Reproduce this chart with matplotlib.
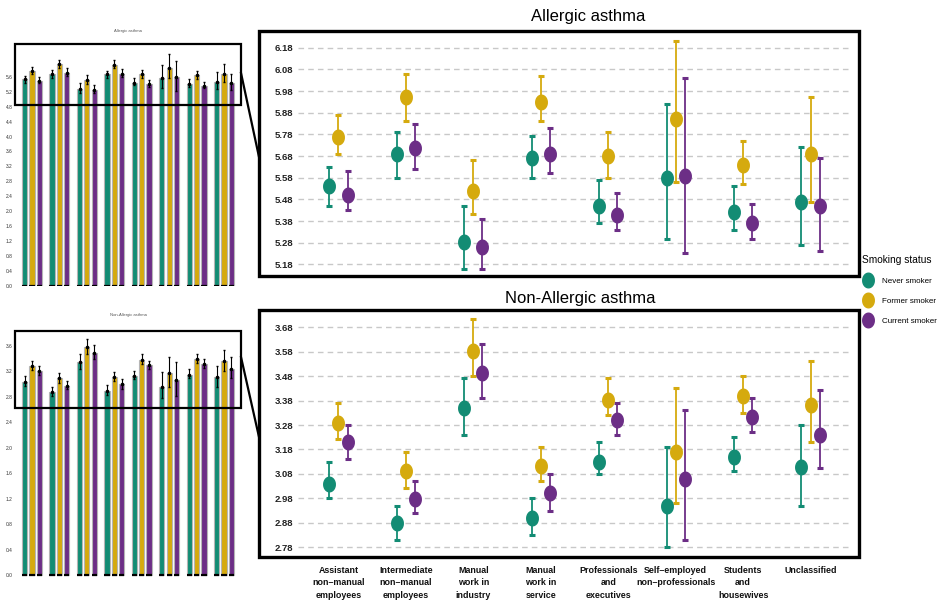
import numpy as np
import matplotlib.pyplot as plt
from matplotlib.patches import Rectangle
from matplotlib.lines import Line2D
from matplotlib.path import Path

# ---- data -------------------------------------------------------------
CATEGORIES = [
    "Assistant\nnon–manual\nemployees",
    "Intermediate\nnon–manual\nemployees",
    "Manual\nwork in\nindustry",
    "Manual\nwork in\nservice",
    "Professionals\nand\nexecutives",
    "Self–employed\nnon–professionals",
    "Students\nand\nhousewives",
    "Unclassified",
]
STATUS = ["Never smoker", "Former smoker", "Current smoker"]

# Allergic asthma: estimate, lower, upper
never_a = [5.542, 5.688, 5.282, 5.669, 5.449, 5.580, 5.420, 5.469]
never_a_lo = [5.449, 5.580, 5.160, 5.580, 5.372, 5.298, 5.338, 5.269]
never_a_hi = [5.631, 5.789, 5.449, 5.771, 5.569, 5.920, 5.542, 5.720]
former_a = [5.769, 5.951, 5.518, 5.931, 5.680, 5.849, 5.640, 5.688]
former_a_lo = [5.689, 5.840, 5.411, 5.842, 5.580, 5.560, 5.549, 5.469]
former_a_hi = [5.869, 6.060, 5.660, 6.051, 5.789, 6.209, 5.749, 5.951]
current_a = [5.498, 5.718, 5.260, 5.689, 5.410, 5.589, 5.369, 5.449]
current_a_lo = [5.429, 5.618, 5.160, 5.600, 5.338, 5.231, 5.298, 5.240]
current_a_hi = [5.609, 5.829, 5.389, 5.808, 5.508, 6.038, 5.460, 5.671]

# Non-allergic asthma
never_n = [3.040, 2.880, 3.350, 2.900, 3.129, 2.950, 3.151, 3.110]
never_n_lo = [2.980, 2.810, 3.240, 2.829, 3.081, 2.780, 3.090, 2.950]
never_n_hi = [3.129, 2.950, 3.471, 2.982, 3.211, 3.192, 3.233, 3.280]
former_n = [3.287, 3.090, 3.583, 3.111, 3.381, 3.170, 3.400, 3.361]
former_n_lo = [3.222, 3.021, 3.481, 3.050, 3.320, 2.960, 3.331, 3.210]
former_n_hi = [3.370, 3.170, 3.713, 3.192, 3.471, 3.430, 3.481, 3.541]
current_n = [3.210, 2.978, 3.492, 3.000, 3.301, 3.060, 3.312, 3.241]
current_n_lo = [3.140, 2.919, 3.390, 2.930, 3.241, 2.810, 3.250, 3.103]
current_n_hi = [3.280, 3.051, 3.613, 3.081, 3.372, 3.342, 3.391, 3.424]

TICKS_A = [5.18, 5.28, 5.38, 5.48, 5.58, 5.68, 5.78, 5.88, 5.98, 6.08, 6.18]
TICKS_N = [2.78, 2.88, 2.98, 3.08, 3.18, 3.28, 3.38, 3.48, 3.58, 3.68]
SMALL_TICKS_A = [0.0, 0.4, 0.8, 1.2, 1.6, 2.0, 2.4, 2.8, 3.2, 3.6, 4.0, 4.4, 4.8, 5.2, 5.6]
SMALL_TICKS_N = [0.0, 0.4, 0.8, 1.2, 1.6, 2.0, 2.4, 2.8, 3.2, 3.6]

COLOURS = ["#138c74", "#d5aa0e", "#6c2e86"]

# ---- layout helpers ----------------------------------------------------
W, H = 941, 607
plt.rcParams["font.family"] = ["Liberation Sans", "DejaVu Sans"]

fig = plt.figure(figsize=(W / 100, H / 100), dpi=100)


def px_axes(x0, y0, x1, y1):
    return fig.add_axes([x0 / W, 1 - y1 / H, (x1 - x0) / W, (y1 - y0) / H])


def fx(x):
    return x / W


def fy(y):
    return 1 - y / H


t = np.linspace(0, 2 * np.pi, 60)
ELLIPSE = Path(np.column_stack([0.79 * np.cos(t), np.sin(t)]))

x = np.arange(len(CATEGORIES))
offsets = [-0.134, 0.0, 0.134]


def big_panel(ax, series, ticks, ylim):
    for tk in ticks:
        ax.axhline(tk, color="#c8c8c8", lw=1.0, ls=(0, (4, 3)), zorder=0)
    for (est, lo, hi), off, col in zip(series, offsets, COLOURS):
        est, lo, hi = map(np.asarray, (est, lo, hi))
        ax.errorbar(x + off, est, yerr=[est - lo, hi - est], fmt="none",
                    ecolor=col, elinewidth=1.3, capsize=2.0, capthick=2.2, zorder=2)
        ax.plot(x + off, est, ls="none", marker=ELLIPSE, ms=10.5,
                color=col, mec=col, zorder=3)
    ax.set_xlim(-0.6, 7.6)
    ax.set_ylim(*ylim)
    ax.set_yticks(ticks)
    ax.set_yticklabels([f"{v:.2f}" for v in ticks], fontsize=6.8, fontweight="bold", color="#222222")
    ax.tick_params(axis="y", length=0, pad=3.5)
    ax.tick_params(axis="x", length=0)
    for s in ax.spines.values():
        s.set_visible(False)
    ax.patch.set_alpha(0)


def small_panel(ax, series, ticks, ylim, title, title_y):
    for (est, lo, hi), off, col in zip(series, [-0.266, 0.0, 0.266], COLOURS):
        est, lo, hi = map(np.asarray, (est, lo, hi))
        ax.bar(x + off, est, width=0.19, color=col, edgecolor="#b5b5b5", lw=0.8, zorder=1)
        ax.hlines(np.zeros_like(est), x + off - 0.095, x + off + 0.095,
                  color="black", lw=1.6, zorder=2)
        ax.errorbar(x + off, est, yerr=[est - lo, hi - est], fmt="o", ms=1.6,
                    color="black", elinewidth=0.8, capsize=1.0, capthick=1.0, zorder=3)
    ax.set_xlim(-0.6, 7.6)
    ax.set_ylim(*ylim)
    ax.set_xticks([])
    ax.set_yticks(ticks)
    ax.set_yticklabels([f"{v:.1f}" for v in ticks], fontsize=3.5, color="#333333")
    ax.tick_params(axis="y", length=0, pad=2)
    for s in ax.spines.values():
        s.set_visible(False)
    fig.text(fx(128), fy(title_y), title, fontsize=3, color="#555555", ha="center", va="center")


series_a = [(never_a, never_a_lo, never_a_hi), (former_a, former_a_lo, former_a_hi),
            (current_a, current_a_lo, current_a_hi)]
series_n = [(never_n, never_n_lo, never_n_hi), (former_n, former_n_lo, former_n_hi),
            (current_n, current_n_lo, current_n_hi)]

# ---- big panels --------------------------------------------------------
ax_a = px_axes(298, 38, 851, 271)
big_panel(ax_a, series_a, TICKS_A, (5.1495, 6.2248))
ax_a.set_xticks([])

ax_n = px_axes(298, 315, 851, 551)
big_panel(ax_n, series_n, TICKS_N, (2.7647, 3.7303))
ax_n.set_xticks(x)
ax_n.set_xticklabels(CATEGORIES, fontsize=6.4, fontweight="bold", color="#111111",
                     va="top", linespacing=1.45)
ax_n.tick_params(axis="x", pad=11)

for y0, y1 in [(31, 276), (310, 557)]:
    fig.add_artist(Rectangle((fx(259), fy(y1)), fx(859) - fx(259), fy(y0) - fy(y1),
                             transform=fig.transFigure, fill=False, lw=2.4, ec="black"))

fig.text(fx(588), fy(16), "Allergic asthma", fontsize=12, ha="center", va="center")
fig.text(fx(580), fy(299), "Non-Allergic asthma", fontsize=12, ha="center", va="center")

# ---- small overview panels --------------------------------------------
ax_sa = px_axes(15.5, 40, 240.5, 286)
small_panel(ax_sa, series_a, SMALL_TICKS_A, (-0.01, 6.59), "Allergic asthma", 31)
ax_sa.add_patch(Rectangle((-0.6, 4.84), 8.2, 1.63, fill=False, lw=1.6, ec="black",
                          clip_on=False, zorder=5))

ax_sn = px_axes(15.5, 325, 240.5, 577)
small_panel(ax_sn, series_n, SMALL_TICKS_N, (-0.027, 3.93), "Non-Allergic asthma", 315)
ax_sn.add_patch(Rectangle((-0.6, 2.63), 8.2, 1.205, fill=False, lw=1.6, ec="black",
                          clip_on=False, zorder=5))

# zoom connectors
for (xa, ya), (xb, yb) in [((241, 73), (259, 157)), ((241, 357), (259, 437))]:
    fig.add_artist(Line2D([fx(xa), fx(xb)], [fy(ya), fy(yb)], transform=fig.transFigure,
                          color="black", lw=1.6))

# ---- legend ------------------------------------------------------------
handles = [Line2D([], [], ls="none", marker=ELLIPSE, ms=10.5, color=c) for c in COLOURS]
leg = fig.legend(handles, STATUS, title="Smoking status", loc="upper left",
                 bbox_to_anchor=(fx(856), fy(249)), frameon=False, fontsize=5.8,
                 title_fontsize=7.3, handletextpad=0.9, labelspacing=1.55, borderpad=0.2,
                 handlelength=1.6)
leg._legend_box.align = "left"
leg._legend_box.sep = 9

fig.savefig("out.png", dpi=100)
